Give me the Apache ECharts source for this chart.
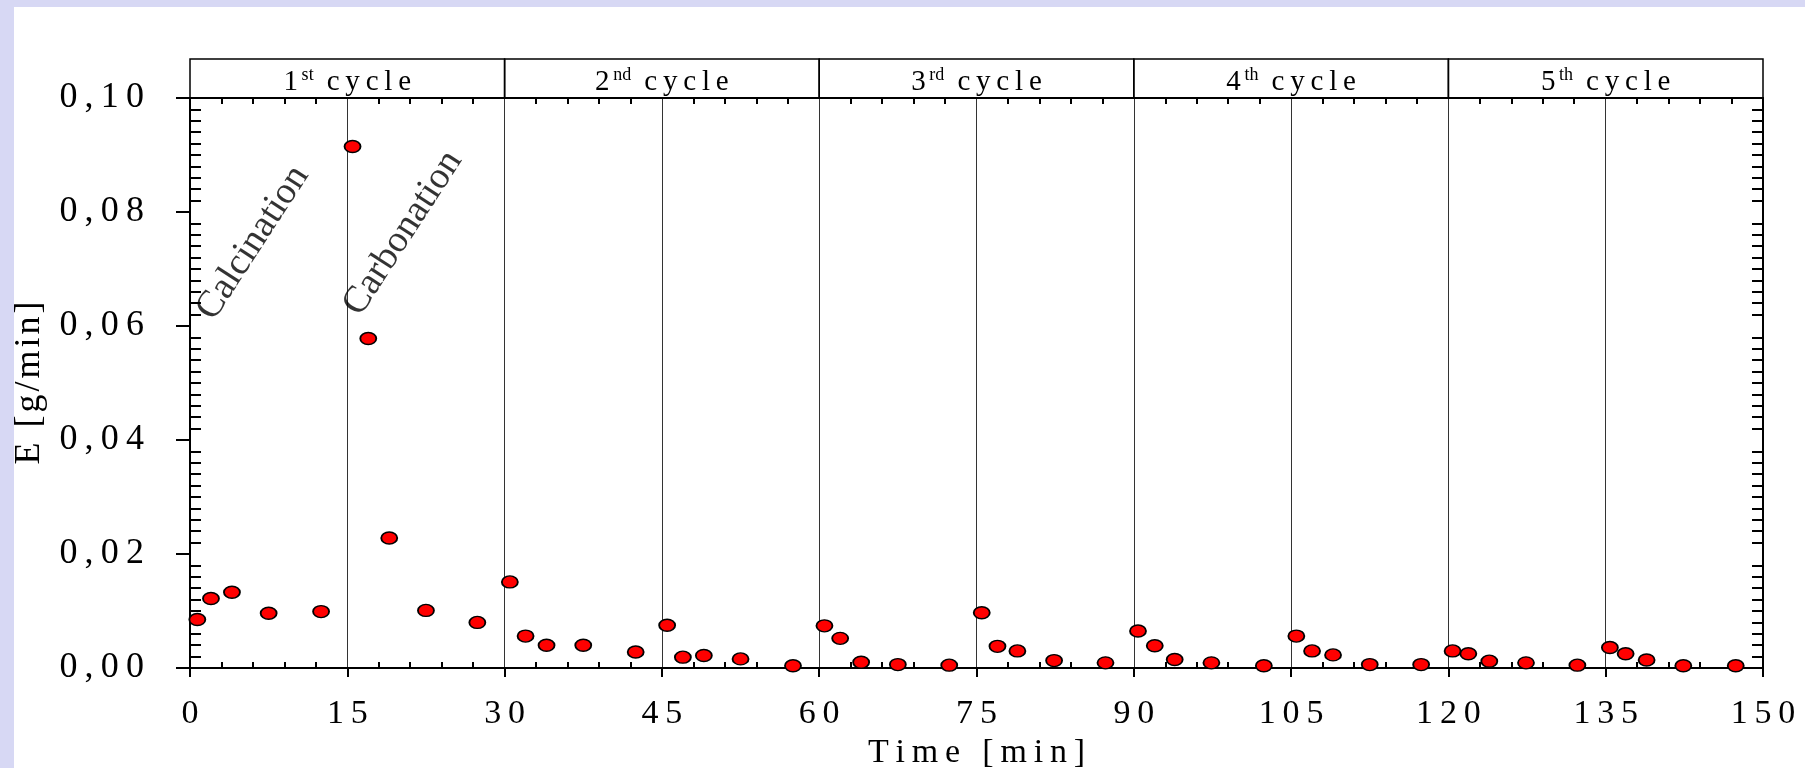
<!DOCTYPE html>
<html><head><meta charset="utf-8">
<script src="https://cdn.jsdelivr.net/npm/echarts@6/dist/echarts.min.js"></script>
<style>
html,body{margin:0;padding:0;background:#d7d8f4;overflow:hidden;}
#bg{position:absolute;left:14px;top:7px;right:0;bottom:0;background:#fff;}
#chart{position:absolute;left:0;top:0;width:1805px;height:768px;}
</style></head><body>
<div id="bg"></div><div id="chart"></div>
<script>
// ---- data ----
const timeMin = [
  0.7, 2.0, 4.0, 7.5, 12.5, 15.5, 17.0, 19.0, 22.5, 27.4,
  30.5, 32.0, 34.0, 37.5, 42.5, 45.5, 47.0, 49.0, 52.5, 57.5,
  60.5, 62.0, 64.0, 67.5, 72.4, 75.5, 77.0, 78.9, 82.4, 87.3,
  90.4, 92.0, 93.9, 97.4, 102.4, 105.5, 107.0, 109.0, 112.5, 117.4,
  120.4, 121.9, 123.9, 127.4, 132.3, 135.4, 136.9, 138.9, 142.4, 147.4
];
const emission = [
  0.0085, 0.0122, 0.0133, 0.0096, 0.0099, 0.0915, 0.0578, 0.0228, 0.0101, 0.0080,
  0.0151, 0.0056, 0.0040, 0.0040, 0.0028, 0.0075, 0.0019, 0.0022, 0.0016, 0.0004,
  0.0074, 0.0052, 0.0010, 0.0006, 0.0005, 0.0097, 0.0038, 0.0030, 0.0013, 0.0009,
  0.0065, 0.0039, 0.0015, 0.0009, 0.0004, 0.0056, 0.0030, 0.0023, 0.0006, 0.0006,
  0.0030, 0.0025, 0.0012, 0.0009, 0.0005, 0.0036, 0.0025, 0.0014, 0.0004, 0.0004
];
const xTickLabels = ['0','15','30','45','60','75','90','105','120','135','150'];
const yTickLabels = ['0,00','0,02','0,04','0,06','0,08','0,10'];
const cycleBounds = [0, 30, 60, 90, 120, 150];
const cycleNumbers = ['1','2','3','4','5'];
const cycleSuffixes = ['st','nd','rd','th','th'];
const phaseNames = ['Calcination','Carbonation'];
const phaseT = [6.0, 20.3];
const phaseE = [0.0746, 0.0763];

// ---- chart ----
const F = 'Liberation Serif';
const thin = s => s.split('').join('\u2009');
const hair = s => s.split('').join('\u200A');
const points = timeMin.map((t, i) => [t, emission[i]]);
const headerAreas = cycleNumbers.map((n, i) => [
  {xAxis: cycleBounds[i], name: '{n|' + n + '}{s|\u2009' + cycleSuffixes[i] + '}{c|\u2009 ' + thin('cycle') + '}'},
  {xAxis: cycleBounds[i + 1]}
]);
const phaseData = phaseNames.map((n, i) => ({name: n, value: [phaseT[i], phaseE[i]]}));

const chart = echarts.init(document.getElementById('chart'), null, {renderer: 'canvas'});
chart.setOption({
  animation: false,
  backgroundColor: 'transparent',
  textStyle: {fontFamily: F},
  grid: [
    {left: 190, right: 42, top: 98, bottom: 100, show: false, containLabel: false, outerBoundsMode: 'none'},
    {left: 190, right: 42, top: 59, height: 39, show: false, containLabel: false, outerBoundsMode: 'none'}
  ],
  xAxis: [
    {gridIndex: 0, type: 'value', min: 0, max: 150, interval: 15, position: 'bottom',
     axisLine: {show: true, onZero: false, lineStyle: {color: '#000', width: 2}},
     axisTick: {show: true, inside: false, length: 9, lineStyle: {color: '#000', width: 2}},
     minorTick: {show: false},
     axisLabel: {margin: 29, color: '#000', fontFamily: F, fontSize: 34,
       formatter: v => thin(xTickLabels[Math.round(v / 15)])},
     splitLine: {show: true, lineStyle: {color: '#333', width: 1}},
     name: thin('Time [min]'), nameLocation: 'middle', nameGap: 56,
     nameTextStyle: {color: '#000', fontFamily: F, fontSize: 34}},
    {gridIndex: 0, type: 'value', min: 0, max: 150, interval: 15, position: 'bottom',
     axisLine: {show: false, onZero: false}, axisTick: {show: false, inside: true},
     minorTick: {show: true, splitNumber: 5, length: 6, lineStyle: {color: '#000', width: 2}},
     axisLabel: {show: false}, splitLine: {show: false}},
    {gridIndex: 0, type: 'value', min: 0, max: 150, interval: 15, position: 'top',
     axisLine: {show: true, onZero: false, lineStyle: {color: '#000', width: 2}},
     axisTick: {show: false, inside: true},
     minorTick: {show: true, splitNumber: 5, length: 6, lineStyle: {color: '#000', width: 2}},
     axisLabel: {show: false}, splitLine: {show: false}},
    {gridIndex: 1, type: 'value', min: 0, max: 150, show: false}
  ],
  yAxis: [
    {gridIndex: 0, type: 'value', min: 0, max: 0.1, interval: 0.02, position: 'left',
     axisLine: {show: true, onZero: false, lineStyle: {color: '#000', width: 2}},
     axisTick: {show: true, inside: false, length: 14, lineStyle: {color: '#000', width: 2}},
     minorTick: {show: false},
     axisLabel: {margin: 46, color: '#000', fontFamily: F, fontSize: 36,
       formatter: v => thin(yTickLabels[Math.round(v / 0.02)])},
     splitLine: {show: false},
     name: hair('E [g/min]'), nameLocation: 'middle', nameGap: 142,
     nameTextStyle: {color: '#000', fontFamily: F, fontSize: 36}},
    {gridIndex: 0, type: 'value', min: 0, max: 0.1, interval: 0.02, position: 'left',
     axisLine: {show: false, onZero: false}, axisTick: {show: false, inside: true},
     minorTick: {show: true, splitNumber: 10, length: 11, lineStyle: {color: '#000', width: 2}},
     axisLabel: {show: false}, splitLine: {show: false}},
    {gridIndex: 0, type: 'value', min: 0, max: 0.1, interval: 0.02, position: 'right',
     axisLine: {show: true, onZero: false, lineStyle: {color: '#000', width: 2}},
     axisTick: {show: false, inside: true},
     minorTick: {show: true, splitNumber: 10, length: 11, lineStyle: {color: '#000', width: 2}},
     axisLabel: {show: false}, splitLine: {show: false}},
    {gridIndex: 1, type: 'value', min: 0, max: 1, show: false}
  ],
  series: [
    {type: 'scatter', xAxisIndex: 0, yAxisIndex: 0, data: points,
     symbol: 'circle', symbolSize: [16, 12],
     itemStyle: {color: '#ff0000', borderColor: '#000', borderWidth: 1.6, opacity: 1},
     z: 5},
    {type: 'scatter', xAxisIndex: 0, yAxisIndex: 0, data: phaseData,
     symbolSize: 0, silent: true,
     label: {show: true, position: 'inside', formatter: '{b}', rotate: 57,
       color: '#000', fontFamily: F, fontSize: 38},
     z: 4},
    {type: 'scatter', xAxisIndex: 3, yAxisIndex: 3, data: [], silent: true,
     markArea: {silent: true,
       itemStyle: {color: 'rgba(0,0,0,0)', borderColor: '#000', borderWidth: 1.5},
       label: {show: true, position: 'inside', offset: [0, 3], color: '#000', fontFamily: F,
         rich: {
           n: {fontSize: 29, fontFamily: F, color: '#000', lineHeight: 30, verticalAlign: 'bottom'},
           s: {fontSize: 18, fontFamily: F, color: '#000', lineHeight: 16, verticalAlign: 'top'},
           c: {fontSize: 29, fontFamily: F, color: '#000', lineHeight: 30, verticalAlign: 'bottom'}
         }},
       data: headerAreas}}
  ]
});
</script>
</body></html>
